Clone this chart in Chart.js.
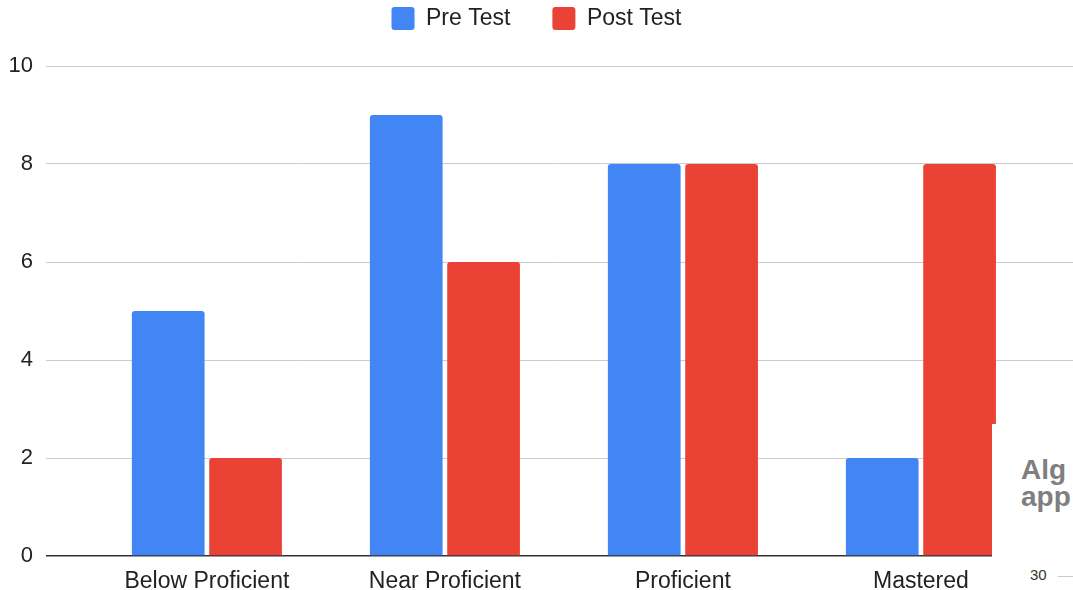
<!DOCTYPE html>
<html>
<head>
<meta charset="utf-8">
<script src="https://cdn.jsdelivr.net/npm/chart.js@4/dist/chart.umd.min.js"></script>
<style>
  html, body { margin: 0; padding: 0; background: #fff; }
  #wrap { position: relative; width: 1073px; height: 590px; }
  #note { position: absolute; left: 992px; top: 424px; width: 81px; height: 166px; background: #fff; font-family: "Liberation Sans", Arial, sans-serif; }
  #note .big { position: absolute; left: 29px; top: 32px; font-size: 28px; font-weight: bold; line-height: 27px; color: #7f7f7f; }
  #note .num { position: absolute; left: 38px; top: 142px; font-size: 15px; color: #333; }
  #note .dash { position: absolute; left: 66px; top: 152px; width: 15px; height: 1px; background: #ccc; }
</style>
</head>
<body>
<div id="wrap">
  <canvas id="chart" width="1073" height="590"></canvas>
  <div id="note">
    <div class="big">Alg<br>app</div>
    <div class="num">30</div>
    <div class="dash"></div>
  </div>
</div>
<script>
// values
var categories = ['Below Proficient', 'Near Proficient', 'Proficient', 'Mastered'];
var preTest = [5, 9, 8, 2];
var postTest = [2, 6, 8, 8];
var yTicks = [0, 2, 4, 6, 8, 10];

var font = "'Liberation Sans', Arial, sans-serif";

// give the legend a fixed height so the plot starts lower
var legendHeight = {
  id: 'legendHeight',
  beforeInit: function (chart) {
    var fit = chart.legend.fit;
    chart.legend.fit = function () {
      fit.bind(chart.legend)();
      this.height = 101;
    };
  }
};

var ctx = document.getElementById('chart').getContext('2d');
new Chart(ctx, {
  type: 'bar',
  data: {
    labels: categories,
    datasets: [{
      label: 'Pre Test',
      data: preTest,
      backgroundColor: '#4285f4',
      borderRadius: 3,
      borderSkipped: 'start',
      categoryPercentage: 0.65,
      barPercentage: 0.94
    }, {
      label: 'Post Test',
      data: postTest,
      backgroundColor: '#ea4335',
      borderRadius: 3,
      borderSkipped: 'start',
      categoryPercentage: 0.65,
      barPercentage: 0.94
    }]
  },
  plugins: [legendHeight],
  options: {
    responsive: false,
    animation: false,
    layout: { padding: { top: -35, right: 0, bottom: 0, left: 0 } },
    plugins: {
      tooltip: { enabled: false },
      legend: {
        position: 'top',
        labels: {
          font: { family: font, size: 23 },
          color: '#222',
          boxWidth: 23,
          boxHeight: 23,
          useBorderRadius: true,
          borderRadius: 3,
          padding: 42
        }
      }
    },
    scales: {
      x: {
        grid: { display: false },
        border: { display: false },
        ticks: { font: { family: font, size: 23 }, color: '#222', padding: 4, maxRotation: 0 },
        afterFit: function (s) { s.height = 34; },
        // the groups sit inside the plot area, not spread to its edges
        afterBuildTicks: function (s) {
          s._startValue = -0.676;
          s._valueRange = 4.315;
        }
      },
      y: {
        min: 0,
        max: 10,
        afterBuildTicks: function (s) {
          s.ticks = yTicks.map(function (v) { return { value: v }; });
        },
        grid: {
          color: function (c) { return c.tick && c.tick.value === 0 ? '#333' : '#ccc'; },
          lineWidth: function (c) { return c.tick && c.tick.value === 0 ? 1.5 : 1; },
          drawTicks: false
        },
        border: { display: false },
        ticks: { font: { family: font, size: 22 }, color: '#222', padding: 13 },
        afterFit: function (s) { s.width = 46; }
      }
    }
  }
});
</script>
</body>
</html>
